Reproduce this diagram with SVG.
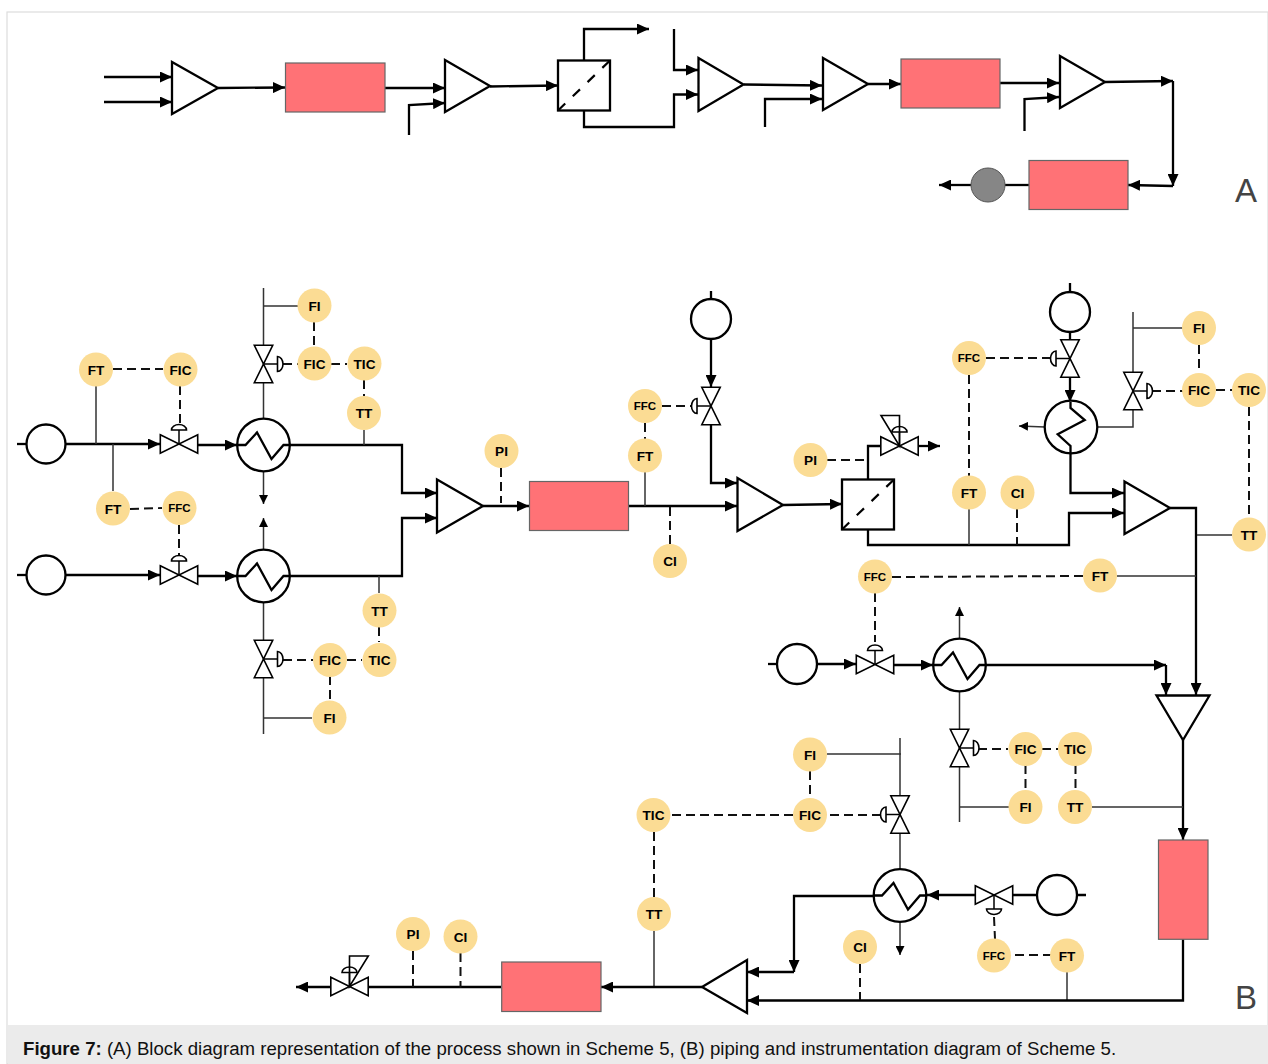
<svg xmlns="http://www.w3.org/2000/svg" xmlns:xlink="http://www.w3.org/1999/xlink" width="1268" height="1064" viewBox="0 0 1268 1064">
<style>
.t{fill:none;stroke:#000;stroke-width:2.3}
.n{fill:none;stroke:#333;stroke-width:1.5}
.d{fill:none;stroke:#111;stroke-width:2;stroke-dasharray:9 5}
.ta{marker-end:url(#a)}
.sa{marker-end:url(#b)}
.eq{fill:#fff;stroke:#000;stroke-width:2.3}
.hx{fill:none;stroke:#000;stroke-width:2.3}
.v{fill:#fff;stroke:#000;stroke-width:1.6}
.box{fill:#ff7276;stroke:#666;stroke-width:1.2}
.i circle{fill:#fbdc94}
.i text{font:bold 13.6px "Liberation Sans",Arial,sans-serif;text-anchor:middle;fill:#000}
.i text.s{font-size:11.5px}
.lab{font:33px "Liberation Sans",Arial,sans-serif;fill:#444}
.cap{font:18.65px "Liberation Sans",Arial,sans-serif;fill:#111}
</style>
<defs>
<marker id="a" viewBox="0 0 12 11" refX="12" refY="5.500" markerWidth="12" markerHeight="11" markerUnits="userSpaceOnUse" orient="auto"><path d="M0,0L12,5.500L0,11Z"/></marker>
<marker id="b" viewBox="0 0 9 9" refX="9" refY="4.500" markerWidth="9" markerHeight="9" markerUnits="userSpaceOnUse" orient="auto"><path d="M0,0L9,4.500L0,9Z"/></marker>
<g id="valve"><path class="v" d="M-18.700,-9.200L18.700,9.200V-9.200L-18.700,9.200Z"/></g>
<g id="act"><path class="n" style="stroke:#000" d="M0,0V-14"/><path class="v" d="M-7.500,-14A7.500,5.500 0 0 1 7.500,-14Z"/></g>
<g id="hxz"><circle class="eq" r="26.300"/><path class="hx" d="M-26,0H-18L-6.500,-12.500L8,14L20,0H26"/></g>
<g id="diag"><rect class="eq" width="52" height="50"/><path d="M0,50L52,0" fill="none" stroke="#000" stroke-width="2.200" stroke-dasharray="10 10.500"/></g>
</defs>
<rect x="7" y="12" width="1261" height="1052" fill="#fff" stroke="#ddd" stroke-width="1.200"/>
<rect x="8" y="1025" width="1260" height="39" fill="#ebebeb"/>
<g id="connectors">
<path class="t ta" d="M104,77H172"/><path class="t ta" d="M104,102H172"/>
<path class="t ta" d="M218,88L285,87.500"/><path class="t ta" d="M385,88H445"/><path class="t ta" d="M409,135V105L445,103"/>
<path class="t ta" d="M490,86.500L558,85.500"/><path class="t ta" d="M584,61V29H649"/><path class="t ta" d="M584,110V127H674V94.500H698"/><path class="t ta" d="M674,29V70H698"/>
<path class="t ta" d="M744,84.500L822,85.500"/><path class="t ta" d="M765,127V99H822"/><path class="t ta" d="M868,84H901"/>
<path class="t ta" d="M1000,83H1059"/><path class="t ta" d="M1024.500,131V99L1059,97"/><path class="t ta" d="M1105,82L1173,81"/><path class="t ta" d="M1173,81V186"/><path class="t ta" d="M1173,186L1128,185"/>
<path class="t" d="M1029,185H1005"/><path class="t ta" d="M971,185H939"/>
<path class="t" d="M17,444H27"/><path class="t ta" d="M65,444H160"/><path class="t ta" d="M198,445H237"/><path class="t ta" d="M290,445H402V493H437"/>
<path class="t" d="M17,575H27"/><path class="t ta" d="M65,575H160"/><path class="t ta" d="M198,576H237"/><path class="t ta" d="M290,576H402V518H437"/>
<path class="n sa" d="M263.500,471V504"/><path class="n sa" d="M263.500,550V518"/>
<path class="n" d="M263.500,419V288M264,306H298M364,430V445M96,386V444M113,491V444"/>
<path class="d" d="M283,364H298M314,322V346M331,364H347M364,380V396M113,369H163M180,386V424M130,509L162,508M179,525V555"/>
<path class="n" d="M263.500,602V734M264,718H312M379,576V593"/>
<path class="d" d="M283,660H313M347,660H362M379,627V642M330,676V700"/>
<path class="t ta" d="M483,506H529"/><path class="t ta" d="M629,506H737"/><path class="d" d="M501,468V503M670,544V506M645,423V439M662,406H692"/>
<path class="n" d="M645,472V506"/>
<path class="t" d="M711,291V299"/><path class="t ta" d="M711,339V387"/><path class="t ta" d="M711,425V483H737"/>
<path class="t ta" d="M783,505L842,504"/><path class="t" d="M868,479V446H881"/><path class="t ta" d="M918,446H940"/><path class="d" d="M827,460H868"/>
<path class="t ta" d="M868,529V545H1069V513H1124"/>
<path class="n" d="M969,509V545"/><path class="d" d="M1017,509V545M969,375V476M986,358H1052"/>
<path class="t" d="M1070,283V292M1070,332V340"/><path class="t ta" d="M1070,377V402"/>
<path class="n sa" d="M1045,427L1019,426"/><path class="n" d="M1097,427H1133V312M1133,328H1183"/>
<path class="d" d="M1152,391H1183M1199,345V373M1216,390H1232M1249,407V518"/><path class="t ta" d="M1070.500,453V493H1124"/>
<path class="t ta" d="M1170,508H1196V695"/><path class="n" d="M1232,535H1197M1117,576H1196"/><path class="d" d="M892,577L1083,576M875,593V642"/>
<path class="t" d="M768,664H778"/><path class="t ta" d="M817,664H856"/><path class="t ta" d="M893,665H933"/>
<path class="n sa" d="M959.500,639V607"/><path class="t ta" d="M986,665H1166"/><path class="t ta" d="M1166,665V695"/>
<path class="t ta" d="M1183,740V840"/><path class="n" d="M1092,807H1183M959.500,691V822M959,807H1009"/>
<path class="d" d="M978,749H1008M1042,749H1058M1025.500,765V790M1075.500,765V790"/>
<path class="n" d="M827,754H901M900,738V870"/><path class="d" d="M881,815H827M810,771V798M793,815H670M654,832V897"/><path class="n" d="M654,931V987"/>
<path class="n sa" d="M900,922V955"/>
<path class="t" d="M1086,895H1077M1037,895H1012"/><path class="t ta" d="M975,895H927"/><path class="d" d="M994,917L995,939M1015,955H1051"/><path class="n" d="M1067,972V1000"/>
<path class="t ta" d="M1183,939V1000.500H747"/><path class="d" d="M860,964V1000"/>
<path class="t ta" d="M874,896H794V972"/><path class="t ta" d="M794,972H747"/><path class="t ta" d="M702,987H601"/><path class="t" d="M501,987H368"/><path class="t ta" d="M331,987H296"/>
<path class="d" d="M413,951V987M460.500,953V988"/>
</g>
<g id="block-a">
<path id="a-mix1" class="eq" d="M172,62V114L218,88Z"/>
<rect id="a-r1" class="box" x="285.500" y="63" width="99.500" height="49"/>
<path id="a-mix2" class="eq" d="M445,60V112L490,86Z"/>
<use id="a-sep" xlink:href="#diag" href="#diag" x="558" y="60.500"/>
<path id="a-mix3" class="eq" d="M698.500,58V111L743.500,84.500Z"/>
<path id="a-mix4" class="eq" d="M823,58V110L868,84Z"/>
<rect id="a-r2" class="box" x="901" y="59" width="99" height="49"/>
<path id="a-mix5" class="eq" d="M1060,56V108L1105,82Z"/>
<rect id="a-r3" class="box" x="1029" y="160.500" width="99" height="49"/>
<circle id="a-pump" cx="988" cy="185" r="17" fill="#868686" stroke="#555" stroke-width="1"/>
<text class="lab" x="1235" y="202">A</text>
</g>
<g id="p1"><circle class="eq" cx="46" cy="444" r="19.500"/></g>
<g id="p2"><circle class="eq" cx="46" cy="575" r="19.500"/></g>
<g id="v1"><use href="#act" transform="translate(179,444)"/><use href="#valve" x="179" y="444"/></g>
<g id="v2"><use href="#act" transform="translate(179,575)"/><use href="#valve" x="179" y="575"/></g>
<g id="h1"><use href="#hxz" x="263.500" y="445"/></g>
<g id="h2"><use href="#hxz" x="263.500" y="576"/></g>
<g id="v3"><use href="#act" transform="translate(263.500,364) rotate(90)"/><use href="#valve" transform="translate(263.500,364) rotate(90)"/></g>
<g id="v4"><use href="#act" transform="translate(263.500,659) rotate(90)"/><use href="#valve" transform="translate(263.500,659) rotate(90)"/></g>
<g id="m1"><path class="eq" d="M437,479.500V532.500L483,506Z"/></g>
<g id="r1"><rect class="box" x="529.500" y="481.500" width="99" height="49"/></g>
<g id="p3"><circle class="eq" cx="711" cy="319" r="20"/></g>
<g id="v5"><use href="#act" transform="translate(711,406) rotate(-90)"/><use href="#valve" transform="translate(711,406) rotate(90)"/></g>
<g id="m2"><path class="eq" d="M737.500,478V531L783,505Z"/></g>
<g id="sep"><use href="#diag" x="842" y="479.500"/></g>
<g id="v6"><use href="#act" transform="translate(899.500,446)"/><path class="v" style="fill:none" d="M899.500,415.500H881L899.500,446Z"/><use href="#valve" x="899.500" y="446"/></g>
<g id="p4"><circle class="eq" cx="1070" cy="312" r="20"/></g>
<g id="v7"><use href="#act" transform="translate(1070,358.500) rotate(-90)"/><use href="#valve" transform="translate(1070,358.500) rotate(90)"/></g>
<g id="h3"><circle class="eq" cx="1071" cy="427" r="26.300"/><path class="hx" d="M1070.500,402V408L1084.700,420L1057.700,434.300L1070.500,446V453"/></g>
<g id="v8"><use href="#act" transform="translate(1133,391) rotate(90)"/><use href="#valve" transform="translate(1133,391) rotate(90)"/></g>
<g id="m3"><path class="eq" d="M1124.500,481.500V534L1170,508Z"/></g>
<g id="p5"><circle class="eq" cx="797" cy="664" r="20"/></g>
<g id="v9"><use href="#act" transform="translate(875,664.500)"/><use href="#valve" x="875" y="664.500"/></g>
<g id="h4"><use href="#hxz" x="959.500" y="665"/></g>
<g id="m4"><path class="eq" d="M1156.500,695.500H1209.500L1183,740Z"/></g>
<g id="v10"><use href="#act" transform="translate(959.500,748) rotate(90)"/><use href="#valve" transform="translate(959.500,748) rotate(90)"/></g>
<g id="r2"><rect class="box" x="1158.500" y="840" width="49.500" height="99.300"/></g>
<g id="v11"><use href="#act" transform="translate(900,814.500) rotate(-90)"/><use href="#valve" transform="translate(900,814.500) rotate(90)"/></g>
<g id="h5"><use href="#hxz" x="900" y="895.500"/></g>
<g id="v12"><use href="#act" transform="translate(994,895) rotate(180)"/><use href="#valve" x="994" y="895"/></g>
<g id="p6"><circle class="eq" cx="1057" cy="895" r="20"/></g>
<g id="m5"><path class="eq" d="M747,960V1013L702,987Z"/></g>
<g id="r3"><rect class="box" x="501.700" y="962" width="99.300" height="49.500"/></g>
<g id="v13"><use href="#act" transform="translate(349.500,986.500)"/><path class="v" style="fill:none" d="M349.500,956H368.300L349.500,986.500Z"/><use href="#valve" x="349.500" y="986.500"/></g>
<g id="instruments" class="i">
<g id="i1"><circle cx="96" cy="369.500" r="17"/><text x="96" y="374.500">FT</text></g>
<g id="i2"><circle cx="180.500" cy="369.500" r="17"/><text x="180.500" y="374.500">FIC</text></g>
<g id="i3"><circle cx="113" cy="508.500" r="17"/><text x="113" y="513.500">FT</text></g>
<g id="i4"><circle cx="179.500" cy="508" r="17"/><text class="s" x="179.500" y="512">FFC</text></g>
<g id="i5"><circle cx="314.500" cy="305.500" r="17"/><text x="314.500" y="310.500">FI</text></g>
<g id="i6"><circle cx="314.500" cy="363.500" r="17"/><text x="314.500" y="368.500">FIC</text></g>
<g id="i7"><circle cx="364.500" cy="363.500" r="17"/><text x="364.500" y="368.500">TIC</text></g>
<g id="i8"><circle cx="364" cy="413" r="17"/><text x="364" y="418">TT</text></g>
<g id="i9"><circle cx="501.500" cy="451" r="17"/><text x="501.500" y="456">PI</text></g>
<g id="i10"><circle cx="645" cy="406" r="17"/><text class="s" x="645" y="410">FFC</text></g>
<g id="i11"><circle cx="645" cy="455.500" r="17"/><text x="645" y="460.500">FT</text></g>
<g id="i12"><circle cx="670" cy="561" r="17"/><text x="670" y="566">CI</text></g>
<g id="i13"><circle cx="379.500" cy="610.500" r="17"/><text x="379.500" y="615.500">TT</text></g>
<g id="i14"><circle cx="379.500" cy="660" r="17"/><text x="379.500" y="665">TIC</text></g>
<g id="i15"><circle cx="330" cy="660" r="17"/><text x="330" y="665">FIC</text></g>
<g id="i16"><circle cx="329.500" cy="717.500" r="17"/><text x="329.500" y="722.500">FI</text></g>
<g id="i17"><circle cx="810.500" cy="460" r="17"/><text x="810.500" y="465">PI</text></g>
<g id="i18"><circle cx="969" cy="358" r="17"/><text class="s" x="969" y="362">FFC</text></g>
<g id="i19"><circle cx="969" cy="492.500" r="17"/><text x="969" y="497.500">FT</text></g>
<g id="i20"><circle cx="1017.500" cy="492.500" r="17"/><text x="1017.500" y="497.500">CI</text></g>
<g id="i21"><circle cx="1199" cy="328" r="17"/><text x="1199" y="333">FI</text></g>
<g id="i22"><circle cx="1199" cy="390" r="17"/><text x="1199" y="395">FIC</text></g>
<g id="i23"><circle cx="1249" cy="390" r="17"/><text x="1249" y="395">TIC</text></g>
<g id="i24"><circle cx="1249" cy="534.500" r="17"/><text x="1249" y="539.500">TT</text></g>
<g id="i25"><circle cx="875" cy="576.500" r="17"/><text class="s" x="875" y="580.500">FFC</text></g>
<g id="i26"><circle cx="1100" cy="575.500" r="17"/><text x="1100" y="580.500">FT</text></g>
<g id="i27"><circle cx="1025.500" cy="749" r="17"/><text x="1025.500" y="754">FIC</text></g>
<g id="i28"><circle cx="1075" cy="749" r="17"/><text x="1075" y="754">TIC</text></g>
<g id="i29"><circle cx="1025.500" cy="807" r="17"/><text x="1025.500" y="812">FI</text></g>
<g id="i30"><circle cx="1075" cy="807" r="17"/><text x="1075" y="812">TT</text></g>
<g id="i31"><circle cx="810" cy="754.500" r="17"/><text x="810" y="759.500">FI</text></g>
<g id="i32"><circle cx="810" cy="815" r="17"/><text x="810" y="820">FIC</text></g>
<g id="i33"><circle cx="653.500" cy="815" r="17"/><text x="653.500" y="820">TIC</text></g>
<g id="i34"><circle cx="654" cy="914" r="17"/><text x="654" y="919">TT</text></g>
<g id="i35"><circle cx="860" cy="947" r="17"/><text x="860" y="952">CI</text></g>
<g id="i36"><circle cx="994" cy="955.500" r="17"/><text class="s" x="994" y="959.500">FFC</text></g>
<g id="i37"><circle cx="1067" cy="955.500" r="17"/><text x="1067" y="960.500">FT</text></g>
<g id="i38"><circle cx="413" cy="934" r="17"/><text x="413" y="939">PI</text></g>
<g id="i39"><circle cx="460.500" cy="936.500" r="17"/><text x="460.500" y="941.500">CI</text></g>
</g>
<text class="lab" x="1235" y="1009">B</text>
<text class="cap" x="23" y="1055"><tspan font-weight="bold">Figure 7:</tspan> (A) Block diagram representation of the process shown in Scheme 5, (B) piping and instrumentation diagram of Scheme 5.</text>
</svg>
